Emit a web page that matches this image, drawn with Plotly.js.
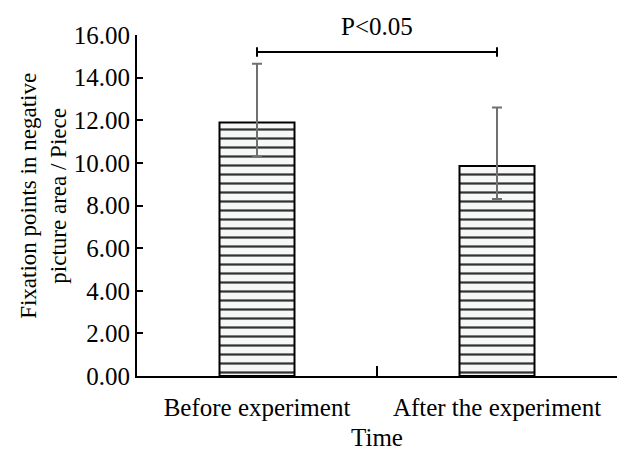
<!DOCTYPE html>
<html>
<head>
<meta charset="utf-8">
<script src="https://cdn.plot.ly/plotly-3.0.1.min.js"></script>
<style>html,body{margin:0;padding:0;background:#fff;}#chart{width:627px;height:451px;}</style>
</head>
<body>
<div id="chart"></div>
<script>
const categories = ["Before experiment", "After the experiment"];
const means = [11.9, 9.85];
const errPlus = [2.75, 2.75];
const errMinus = [1.6, 1.55];
const yTickVals = [0, 2, 4, 6, 8, 10, 12, 14, 16];
const yTickText = ["0.00", "2.00", "4.00", "6.00", "8.00", "10.00", "12.00", "14.00", "16.00"];
const yTitle = "Fixation points in negative<br>picture area / Piece";
const xTitle = "Time";
const sigLabel = "P<0.05";
const sigLevel = 15.2;

const font = {family: "Liberation Serif, Times New Roman, serif", size: 25, color: "#000"};
const yTitleFont = {family: "Liberation Serif, Times New Roman, serif", size: 23, color: "#000"};

const trace = {
  type: "bar",
  x: categories,
  y: means,
  marker: {
    color: "#f6f8f8",
    line: {color: "#000", width: 2},
    pattern: {shape: "-", size: 9, solidity: 0.25, fgcolor: "#333", bgcolor: "#f6f8f8", fillmode: "replace"}
  },
  error_y: {
    type: "data", symmetric: false,
    array: errPlus, arrayminus: errMinus,
    color: "#707070", thickness: 2, width: 5
  },
  hoverinfo: "none"
};

const layout = {
  width: 627, height: 451,
  margin: {l: 137, r: 10, t: 35, b: 75},
  paper_bgcolor: "#fff", plot_bgcolor: "#fff",
  font: font,
  showlegend: false,
  bargap: 0.6875,
  xaxis: {
    type: "category",
    range: [-0.5, 1.5],
    automargin: false,
    showline: true, linecolor: "#000", linewidth: 2,
    ticks: "inside", tickson: "boundaries", ticklen: 10, tickwidth: 2, tickcolor: "#000",
    showgrid: false, zeroline: false,
    tickfont: font, ticklabelstandoff: 8,
    title: {text: xTitle, font: font, standoff: 8}
  },
  yaxis: {
    range: [0, 16],
    automargin: false,
    tickvals: yTickVals, ticktext: yTickText,
    showline: true, linecolor: "#000", linewidth: 2,
    ticks: "inside", ticklen: 6, tickwidth: 2, tickcolor: "#000",
    showgrid: false, zeroline: false,
    tickfont: font
  },
  shapes: [
    {type: "line", xref: "x", yref: "y", x0: 0, x1: 1, y0: sigLevel, y1: sigLevel, line: {color: "#000", width: 2}},
    {type: "line", xref: "x", yref: "y", x0: 0, x1: 0, y0: sigLevel - 0.22, y1: sigLevel + 0.22, line: {color: "#000", width: 2}},
    {type: "line", xref: "x", yref: "y", x0: 1, x1: 1, y0: sigLevel - 0.22, y1: sigLevel + 0.22, line: {color: "#000", width: 2}}
  ],
  annotations: [
    {text: sigLabel, xref: "x", yref: "y", x: 0.5, y: sigLevel, yanchor: "bottom", yshift: 10, showarrow: false, font: font},
    {text: yTitle, xref: "paper", yref: "paper", x: -0.194, y: 0.528, xanchor: "center", yanchor: "middle",
     textangle: -90, showarrow: false, font: yTitleFont}
  ]
};

Plotly.newPlot("chart", [trace], layout, {staticPlot: true, displayModeBar: false});
</script>
</body>
</html>
